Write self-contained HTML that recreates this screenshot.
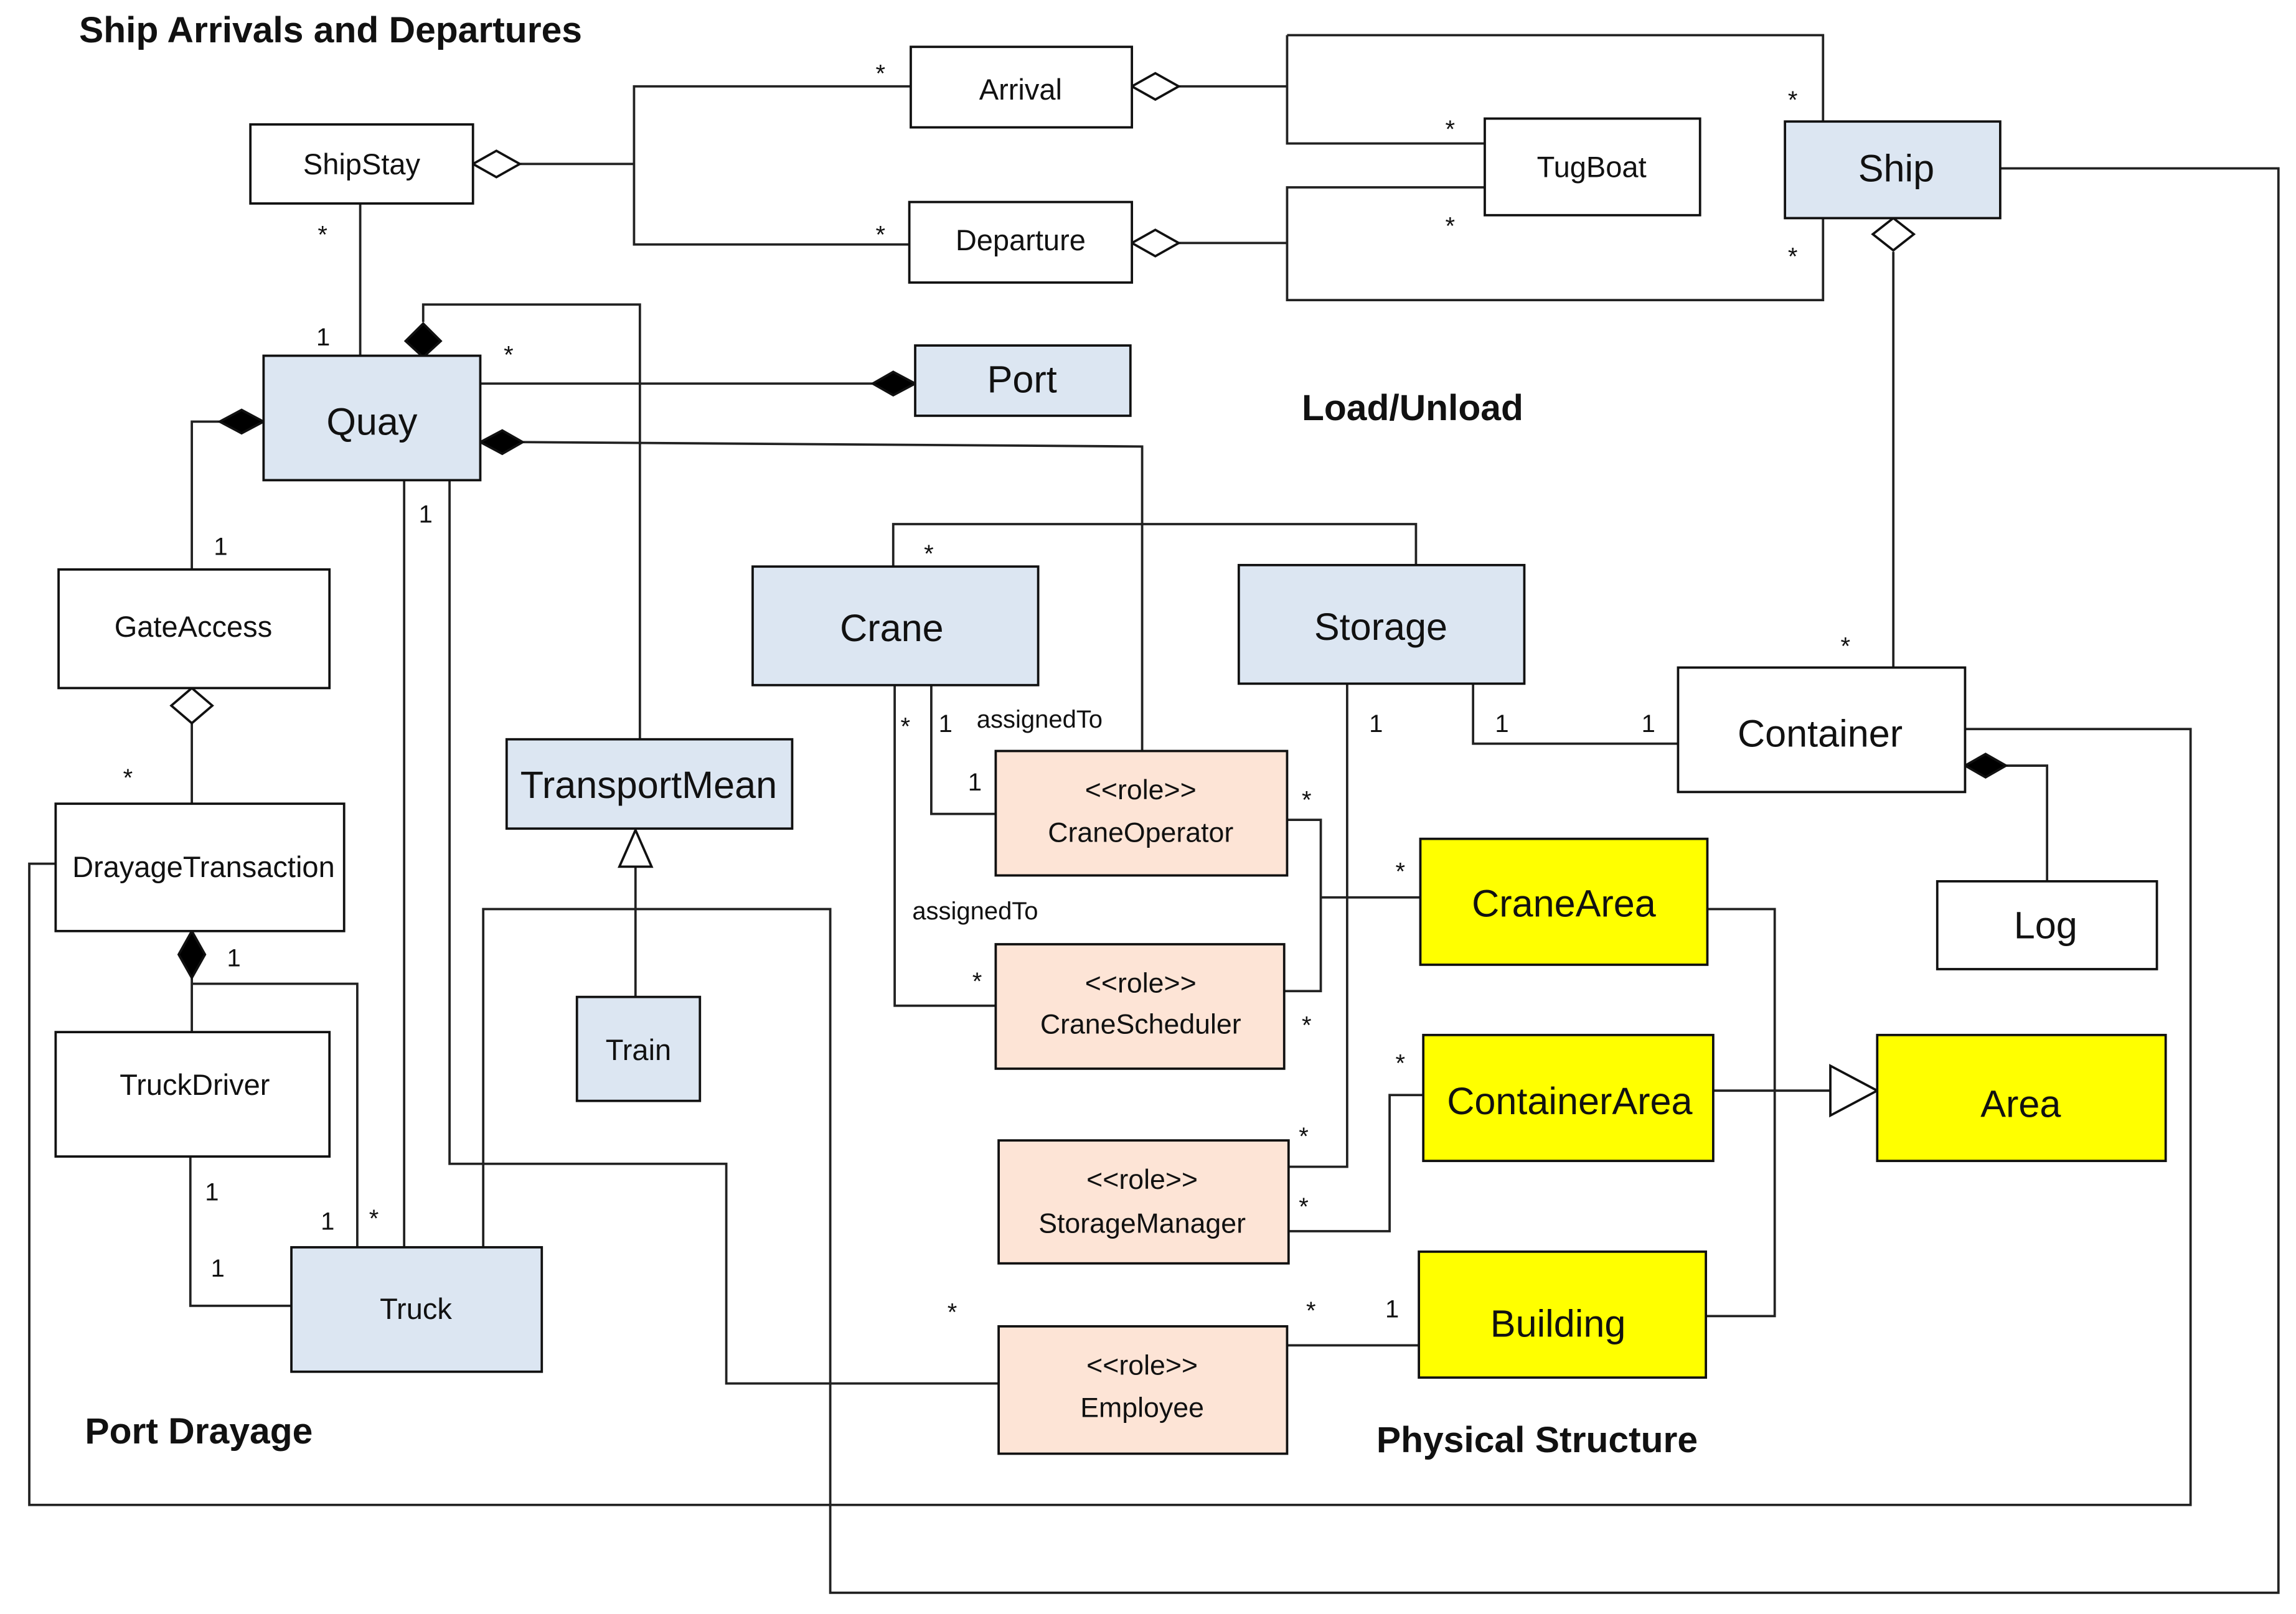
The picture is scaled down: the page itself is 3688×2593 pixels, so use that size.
<!DOCTYPE html>
<html><head><meta charset="utf-8"><style>
html,body{margin:0;padding:0;background:#fff;}
svg{display:block;}
text{font-family:"Liberation Sans Narrow","Liberation Sans",sans-serif;fill:#111;}
.b{fill:#dce6f2;stroke:#111;stroke-width:1.6}
.w{fill:#fff;stroke:#111;stroke-width:1.6}
.p{fill:#fde4d6;stroke:#111;stroke-width:1.6}
.y{fill:#ffff00;stroke:#111;stroke-width:1.6}
.l{fill:none;stroke:#222;stroke-width:1.6}
.m{font-size:17px}
.t{font-size:25px;font-weight:bold;font-family:"Liberation Sans",sans-serif}
</style></head><body>
<svg width="3688" height="2593" viewBox="0 0 1568 1102.5" preserveAspectRatio="none" xmlns="http://www.w3.org/2000/svg">
<!-- lines -->
<g class="l">
<polyline points="355,112 433,112"/>
<polyline points="622,59 433,59 433,167 621,167"/>
<polyline points="805,59 879,59"/>
<polyline points="879,24 879,98 1014,98"/>
<polyline points="879,24 1245,24 1245,205 879,205 879,128 1014,128"/>
<polyline points="805,166 879,166"/>
<polyline points="1366,115 1556,115 1556,1088 567,1088 567,621 330,621 330,852"/>
<polyline points="1293,172 1293,456"/>
<polyline points="246,139 246,243"/>
<polyline points="289,220 289,208 437,208 437,505"/>
<polyline points="328,262 596,262"/>
<polyline points="357,302 780,305 780,513"/>
<polyline points="150,288 131,288 131,389"/>
<polyline points="276,328 276,852"/>
<polyline points="307,328 307,795 496,795 496,945 682,945"/>
<polyline points="131,494 131,549"/>
<polyline points="38,590 20,590 20,1028 1496,1028 1496,498 1342,498"/>
<polyline points="131,668 131,705"/>
<polyline points="131,672 244,672 244,852"/>
<polyline points="130,790 130,892 199,892"/>
<polyline points="434,592 434,681"/>
<polyline points="610,387 610,358 967,358 967,386"/>
<polyline points="636,468 636,556 680,556"/>
<polyline points="611,468 611,687 680,687"/>
<polyline points="879,560 902,560 902,677 877,677"/>
<polyline points="902,613 970,613"/>
<polyline points="920,467 920,797 880,797"/>
<polyline points="1006,467 1006,508 1146,508"/>
<polyline points="972,748 949,748 949,841 880,841"/>
<polyline points="879,919 969,919"/>
<polyline points="1166,621 1212,621 1212,899 1165,899"/>
<polyline points="1170,745 1250,745"/>
<polyline points="1370,523 1398,523 1398,602"/>
</g>
<!-- diamonds & arrows -->
<g stroke="#111" stroke-width="1.6">
<polygon points="323,112 339,103 355,112 339,121" fill="#fff"/>
<polygon points="773,59 789,50 805,59 789,68" fill="#fff"/>
<polygon points="773,166 789,157 805,166 789,175" fill="#fff"/>
<polygon points="1293,149 1307,160 1293,171 1279,160" fill="#fff"/>
<polygon points="131,470 145,482 131,494 117,482" fill="#fff"/>
<polygon points="289,244 277,233 289,221 301,233" fill="#000"/>
<polygon points="625,262 610,254 596,262 610,270" fill="#000"/>
<polygon points="328,302 343,294 357,302 343,310" fill="#000"/>
<polygon points="180,288 165,280 150,288 165,296" fill="#000"/>
<polygon points="131,636 140,652 131,668 122,652" fill="#000"/>
<polygon points="1342,523 1356,515 1370,523 1356,531" fill="#000"/>
<polygon points="434,567 423,592 445,592" fill="#fff"/>
<polygon points="1282,745 1250,728 1250,762" fill="#fff"/>
</g>
<!-- boxes -->
<rect class="w" x="171" y="85" width="152" height="54"/><text x="247" y="119" font-size="20" text-anchor="middle">ShipStay</text>
<rect class="w" x="622" y="32" width="151" height="55"/><text x="697" y="68" font-size="20" text-anchor="middle">Arrival</text>
<rect class="w" x="621" y="138" width="152" height="55"/><text x="697" y="171" font-size="20" text-anchor="middle">Departure</text>
<rect class="w" x="1014" y="81" width="147" height="66"/><text x="1087" y="121" font-size="20" text-anchor="middle">TugBoat</text>
<rect class="b" x="1219" y="83" width="147" height="66"/><text x="1295" y="124" font-size="26" text-anchor="middle">Ship</text>
<rect class="b" x="180" y="243" width="148" height="85"/><text x="254" y="297" font-size="26" text-anchor="middle">Quay</text>
<rect class="b" x="625" y="236" width="147" height="48"/><text x="698" y="268" font-size="26" text-anchor="middle">Port</text>
<rect class="w" x="40" y="389" width="185" height="81"/><text x="132" y="435" font-size="20" text-anchor="middle">GateAccess</text>
<rect class="w" x="38" y="549" width="197" height="87"/><text x="139" y="599" font-size="20" text-anchor="middle">DrayageTransaction</text>
<rect class="w" x="38" y="705" width="187" height="85"/><text x="133" y="748" font-size="20" text-anchor="middle">TruckDriver</text>
<rect class="b" x="199" y="852" width="171" height="85"/><text x="284" y="901" font-size="20" text-anchor="middle">Truck</text>
<rect class="b" x="346" y="505" width="195" height="61"/><text x="443" y="545" font-size="26" text-anchor="middle">TransportMean</text>
<rect class="b" x="394" y="681" width="84" height="71"/><text x="436" y="724" font-size="20" text-anchor="middle">Train</text>
<rect class="b" x="514" y="387" width="195" height="81"/><text x="609" y="438" font-size="26" text-anchor="middle">Crane</text>
<rect class="b" x="846" y="386" width="195" height="81"/><text x="943" y="437" font-size="26" text-anchor="middle">Storage</text>
<rect class="w" x="1146" y="456" width="196" height="85"/><text x="1243" y="510" font-size="26" text-anchor="middle">Container</text>
<rect class="w" x="1323" y="602" width="150" height="60"/><text x="1397" y="641" font-size="26" text-anchor="middle">Log</text>
<rect class="p" x="680" y="513" width="199" height="85"/><text x="779" y="546" font-size="19" text-anchor="middle">&lt;&lt;role&gt;&gt;</text><text x="779" y="575" font-size="19" text-anchor="middle">CraneOperator</text>
<rect class="p" x="680" y="645" width="197" height="85"/><text x="779" y="678" font-size="19" text-anchor="middle">&lt;&lt;role&gt;&gt;</text><text x="779" y="706" font-size="19" text-anchor="middle">CraneScheduler</text>
<rect class="p" x="682" y="779" width="198" height="84"/><text x="780" y="812" font-size="19" text-anchor="middle">&lt;&lt;role&gt;&gt;</text><text x="780" y="842" font-size="19" text-anchor="middle">StorageManager</text>
<rect class="p" x="682" y="906" width="197" height="87"/><text x="780" y="939" font-size="19" text-anchor="middle">&lt;&lt;role&gt;&gt;</text><text x="780" y="968" font-size="19" text-anchor="middle">Employee</text>
<rect class="y" x="970" y="573" width="196" height="86"/><text x="1068" y="626" font-size="26" text-anchor="middle">CraneArea</text>
<rect class="y" x="972" y="707" width="198" height="86"/><text x="1072" y="761" font-size="26" text-anchor="middle">ContainerArea</text>
<rect class="y" x="1282" y="707" width="197" height="86"/><text x="1380" y="763" font-size="26" text-anchor="middle">Area</text>
<rect class="y" x="969" y="855" width="196" height="86"/><text x="1064" y="913" font-size="26" text-anchor="middle">Building</text>
<!-- titles -->
<text class="t" x="54" y="29">Ship Arrivals and Departures</text>
<text class="t" x="889" y="287">Load/Unload</text>
<text class="t" x="58" y="986">Port Drayage</text>
<text class="t" x="940" y="992">Physical Structure</text>
<!-- multiplicities -->
<g class="m">
<text x="598" y="56">*</text><text x="598" y="166">*</text>
<text x="987" y="94">*</text><text x="987" y="160">*</text>
<text x="1221" y="74">*</text><text x="1221" y="181">*</text>
<text x="217" y="166">*</text><text x="216" y="236">1</text>
<text x="344" y="248">*</text>
<text x="146" y="379">1</text><text x="286" y="357">1</text>
<text x="84" y="537">*</text><text x="155" y="660">1</text>
<text x="140" y="820">1</text><text x="144" y="872">1</text>
<text x="219" y="840">1</text><text x="252" y="838">*</text>
<text x="631" y="384">*</text>
<text x="615" y="502">*</text><text x="641" y="500">1</text>
<text x="667" y="497">assignedTo</text>
<text x="661" y="540">1</text>
<text x="623" y="628">assignedTo</text>
<text x="664" y="676">*</text>
<text x="889" y="552">*</text><text x="889" y="706">*</text>
<text x="953" y="601">*</text><text x="953" y="732">*</text>
<text x="887" y="782">*</text><text x="887" y="830">*</text>
<text x="935" y="500">1</text><text x="1021" y="500">1</text><text x="1121" y="500">1</text>
<text x="1257" y="447">*</text>
<text x="647" y="902">*</text><text x="892" y="901">*</text><text x="946" y="900">1</text>
</g>
</svg>
</body></html>
